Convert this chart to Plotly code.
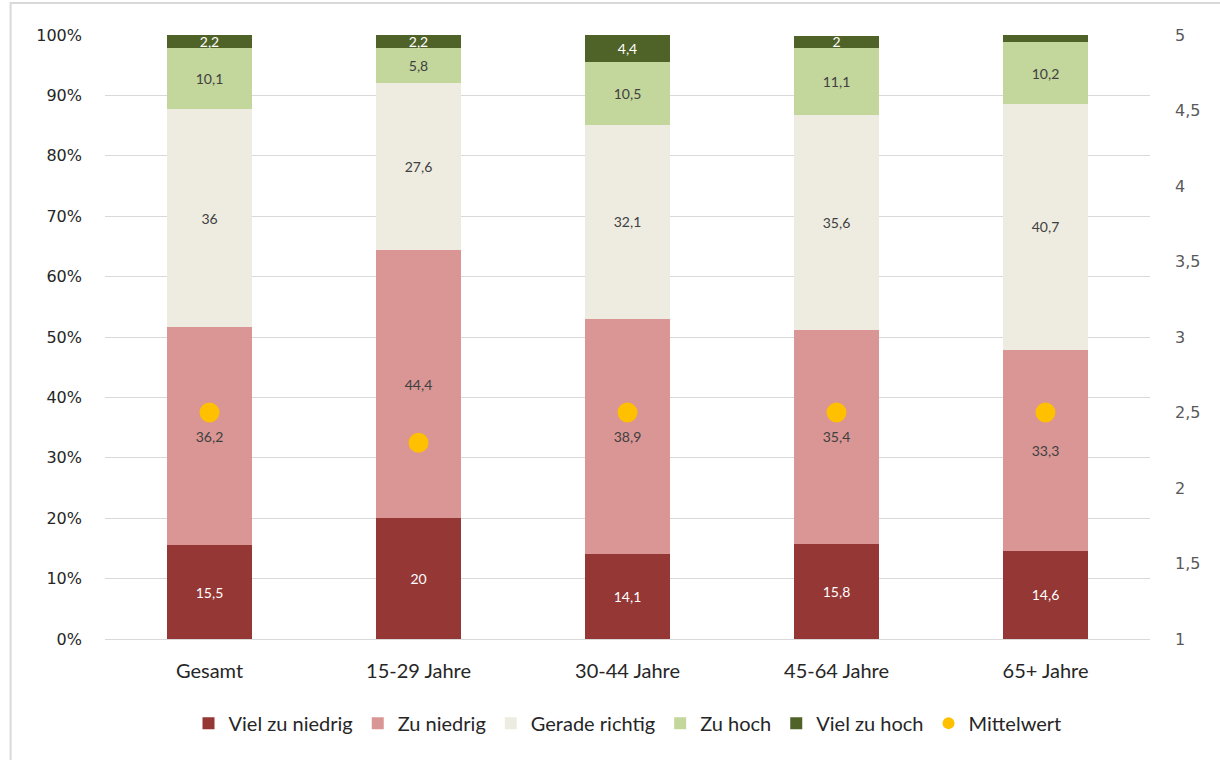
import plotly.graph_objects as go

categories = ["Gesamt", "15-29 Jahre", "30-44 Jahre", "45-64 Jahre", "65+ Jahre"]
viel_zu_niedrig = [15.5, 20.0, 14.1, 15.8, 14.6]
zu_niedrig = [36.2, 44.4, 38.9, 35.4, 33.3]
gerade_richtig = [36.0, 27.6, 32.1, 35.6, 40.7]
zu_hoch = [10.1, 5.8, 10.5, 11.1, 10.2]
viel_zu_hoch = [2.2, 2.2, 4.4, 2.0, 1.2]
viel_zu_hoch_labels = ["2,2", "2,2", "4,4", "2", ""]
mittelwert = [2.5, 2.3, 2.5, 2.5, 2.5]

W, H = 1220, 760
L, R, T, B = 104.5, 69.5, 35, 121
font_main = "Lato, 'Open Sans', sans-serif"
font_ticks = "'DejaVu Sans', Verdana, sans-serif"

def fmt(v):
    s = ("%.1f" % v).replace(".", ",")
    return s[:-2] if s.endswith(",0") else s

series = [
    ("Viel zu niedrig", viel_zu_niedrig, "#953735", "white", [fmt(v) for v in viel_zu_niedrig]),
    ("Zu niedrig", zu_niedrig, "#D99694", "#404040", [fmt(v) for v in zu_niedrig]),
    ("Gerade richtig", gerade_richtig, "#EEECE1", "#404040", [fmt(v) for v in gerade_richtig]),
    ("Zu hoch", zu_hoch, "#C3D69B", "#404040", [fmt(v) for v in zu_hoch]),
    ("Viel zu hoch", viel_zu_hoch, "#4F6228", "white", viel_zu_hoch_labels),
]

fig = go.Figure()
for name, vals, color, tcol, labels in series:
    fig.add_trace(go.Bar(
        x=categories, y=vals, name=name, marker=dict(color=color, line=dict(width=0)),
        text=labels, textposition="inside", insidetextanchor="middle", textangle=0,
        textfont=dict(color=tcol, size=14, family=font_main),
        constraintext="none", hoverinfo="skip",
    ))

fig.add_trace(go.Scatter(
    x=categories, y=mittelwert, name="Mittelwert", mode="markers", yaxis="y2",
    marker=dict(color="#FFC000", size=20, line=dict(width=0)),
))

fig.update_layout(
    width=W, height=H, barmode="stack", bargap=0.59,
    separators=",.",
    plot_bgcolor="white", paper_bgcolor="white",
    margin=dict(l=L, r=R, t=T, b=B, autoexpand=False),
    font=dict(family=font_main, color="#404040", size=16),
    uniformtext=dict(mode=False),
    xaxis=dict(showgrid=False, showline=True, linecolor="#D9D9D9", linewidth=1,
               tickfont=dict(size=20, color="#262626", family=font_main), ticks="",
               ticklabelstandoff=14),
    yaxis=dict(range=[0, 100], tickvals=[0, 10, 20, 30, 40, 50, 60, 70, 80, 90, 100],
               ticktext=["0%", "10%", "20%", "30%", "40%", "50%", "60%", "70%", "80%", "90%", "100%"],
               showgrid=True, gridcolor="#D9D9D9", gridwidth=1, zeroline=False,
               tickfont=dict(size=16, color="#262626", family=font_ticks), ticklen=0,
               ticklabelstandoff=22),
    yaxis2=dict(range=[1, 5], overlaying="y", side="right", dtick=0.5, showgrid=False,
                zeroline=False, tickfont=dict(size=16, color="#595959", family=font_ticks),
                ticklabelstandoff=24),
    legend=dict(orientation="h", x=0.5, xanchor="center", y=-0.107, yanchor="top",
                font=dict(size=20, color="#262626", family=font_main), traceorder="normal",
                itemsizing="constant", itemwidth=30),
    showlegend=True,
)

pw = W - L - R
ph = H - T - B
x0 = (10 - L) / pw
x1 = (1228 - L) / pw
y1 = (H - 3 - B) / ph
y0 = (H - 768 - B) / ph
fig.add_shape(type="rect", xref="paper", yref="paper", x0=x0, x1=x1, y0=y0, y1=y1,
              line=dict(color="#D9D9D9", width=2), layer="below")

fig.write_html("out.html", config={"displayModeBar": False},
               post_script="document.body.style.margin='0';document.body.style.overflow='hidden';")
